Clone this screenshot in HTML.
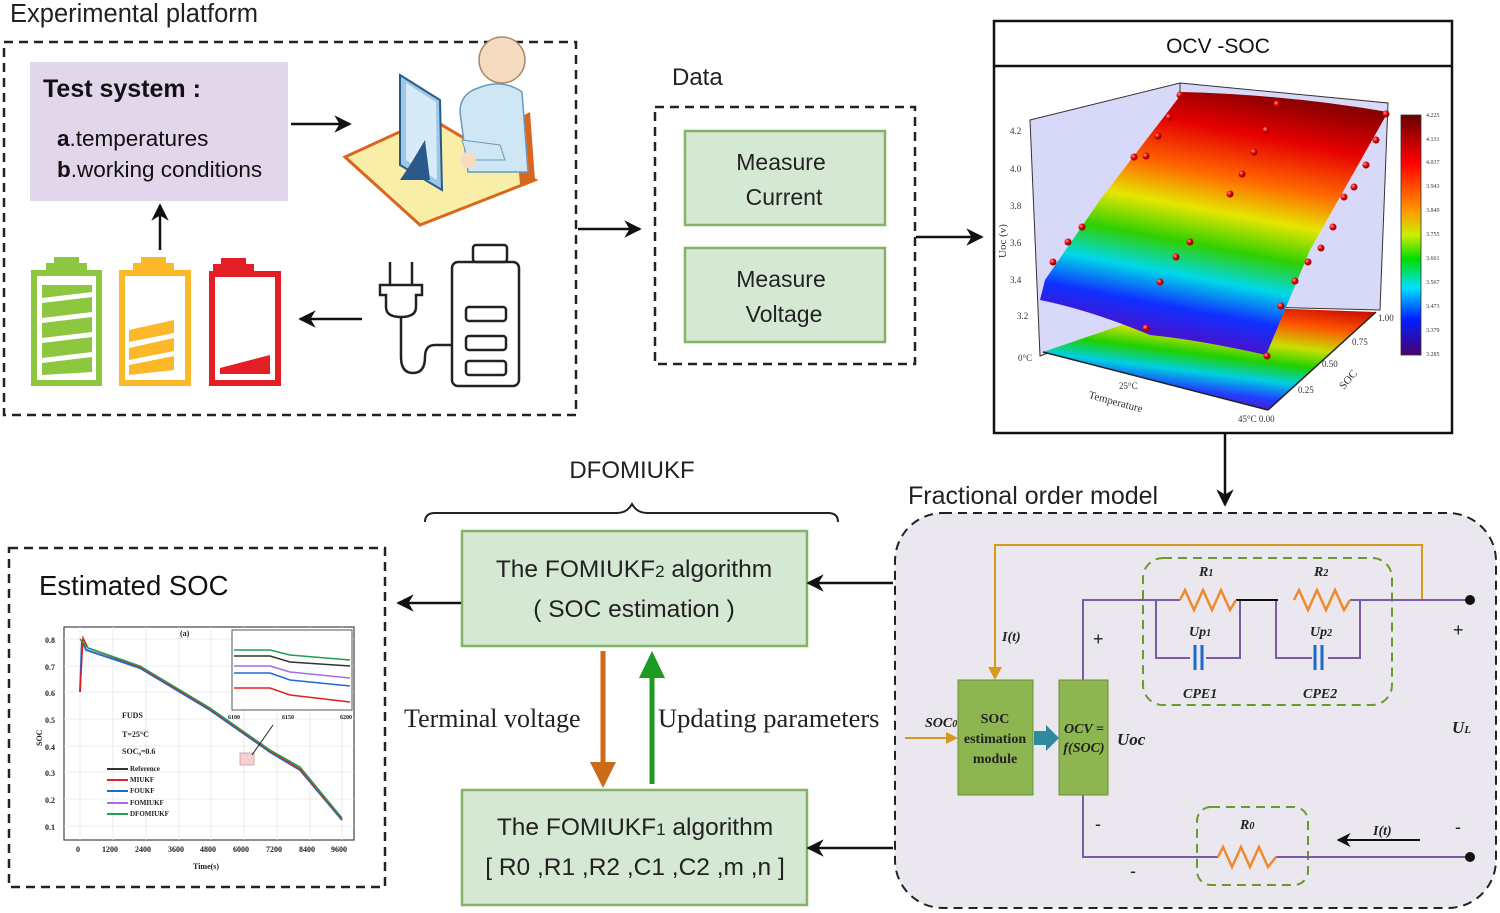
<!DOCTYPE html>
<html><head><meta charset="utf-8"><style>
html,body{margin:0;padding:0;background:#fff;}
svg{display:block;font-family:"Liberation Sans",sans-serif;}
</style></head><body>
<svg width="1500" height="913" viewBox="0 0 1500 913" xmlns="http://www.w3.org/2000/svg">
<defs>
<marker id="ah" viewBox="0 0 10 10" refX="9" refY="5" markerWidth="7" markerHeight="7" orient="auto-start-reverse"><path d="M0,0 L10,5 L0,10 L3,5 z" fill="#111"/></marker>
<linearGradient id="surf" x1="0.6" y1="0" x2="0.35" y2="1">
<stop offset="0" stop-color="#8b0000"/><stop offset="0.15" stop-color="#e60000"/><stop offset="0.32" stop-color="#ff6a00"/><stop offset="0.45" stop-color="#e6e600"/><stop offset="0.58" stop-color="#30d000"/><stop offset="0.7" stop-color="#00d8e8"/><stop offset="0.82" stop-color="#1030ff"/><stop offset="1" stop-color="#6a00b0"/></linearGradient>
<linearGradient id="floor" x1="0.9" y1="0" x2="0.5" y2="1">
<stop offset="0" stop-color="#c00000"/><stop offset="0.2" stop-color="#ff5000"/><stop offset="0.4" stop-color="#c8e000"/><stop offset="0.55" stop-color="#20d000"/><stop offset="0.7" stop-color="#00d0e0"/><stop offset="0.85" stop-color="#2040ff"/><stop offset="1" stop-color="#7000b0"/></linearGradient>
<linearGradient id="cbar" x1="0" y1="0" x2="0" y2="1">
<stop offset="0" stop-color="#6a0000"/><stop offset="0.2" stop-color="#ff0000"/><stop offset="0.4" stop-color="#ff9900"/><stop offset="0.5" stop-color="#ccee00"/><stop offset="0.6" stop-color="#00dd00"/><stop offset="0.72" stop-color="#00e0ff"/><stop offset="0.85" stop-color="#0020ff"/><stop offset="1" stop-color="#4a0070"/></linearGradient>
<radialGradient id="ball" cx="0.35" cy="0.35" r="0.7"><stop offset="0" stop-color="#ff9a9a"/><stop offset="0.5" stop-color="#e00000"/><stop offset="1" stop-color="#800000"/></radialGradient>
</defs>

<!-- Experimental platform -->
<text x="10" y="22" font-size="25.5" fill="#222">Experimental platform</text>
<rect x="4" y="42" width="572" height="373" fill="none" stroke="#222" stroke-width="2.5" stroke-dasharray="9,6"/>
<rect x="30" y="62" width="258" height="139" fill="#e2d6ea"/>
<text x="43" y="97" font-size="25" font-weight="bold" fill="#111">Test system :</text>
<text x="57" y="146" font-size="22.5" fill="#111"><tspan font-weight="bold">a</tspan>.temperatures</text>
<text x="57" y="177" font-size="22.5" fill="#111"><tspan font-weight="bold">b</tspan>.working conditions</text>
<line x1="291" y1="124" x2="350" y2="124" stroke="#111" stroke-width="2.5" marker-end="url(#ah)"/>
<line x1="160" y1="250" x2="160" y2="205" stroke="#111" stroke-width="2.5" marker-end="url(#ah)"/>
<line x1="362" y1="319" x2="300" y2="319" stroke="#111" stroke-width="2.5" marker-end="url(#ah)"/>
<!-- computer/person -->
<polygon points="345,157 430,118 535,180 420,225" fill="#f8eea8" stroke="#d9661e" stroke-width="3"/>
<polygon points="515,120 530,112 535,180 520,185" fill="#d9661e"/>
<path d="M478,88 q24,-10 44,4 l6,80 l-60,0 l-8,-60 q0,-18 18,-24 z" fill="#cfe6f4" stroke="#6a99bb" stroke-width="1.5"/>
<circle cx="502" cy="60" r="23" fill="#f5dcc0" stroke="#aa8866" stroke-width="1.5"/>
<polygon points="462,140 500,145 505,160 468,160" fill="#cfe7f4" stroke="#6a99bb"/>
<circle cx="468" cy="160" r="8" fill="#f5dcc0"/>
<polygon points="400,75 440,100 442,190 400,165" fill="#9cc8e6" stroke="#2b5a8a" stroke-width="2"/>
<polygon points="406,83 436,102 437,180 406,160" fill="#d6ebf7"/>
<polygon points="410,165 425,140 430,180 400,180" fill="#2b5a8a"/>
<!-- batteries -->
<g>
<rect x="54" y="257" width="25" height="6" fill="#8dc63f"/><rect x="46" y="263" width="41" height="8" fill="#8dc63f"/>
<rect x="34" y="273" width="65" height="110" fill="#fff" stroke="#8dc63f" stroke-width="6"/>
<g fill="#8dc63f"><polygon points="42,285 92,285 92,292 42,298"/><polygon points="42,303 92,297 92,312 42,318"/><polygon points="42,323 92,317 92,332 42,338"/><polygon points="42,343 92,337 92,352 42,358"/><polygon points="42,363 92,357 92,372 42,375"/></g>
<rect x="141" y="257" width="25" height="6" fill="#fbb829"/><rect x="133" y="263" width="41" height="8" fill="#fbb829"/>
<rect x="122" y="273" width="66" height="110" fill="#fff" stroke="#fbb829" stroke-width="6"/>
<g fill="#fbb829"><polygon points="129,330 174,320 174,333 129,342"/><polygon points="129,348 174,338 174,351 129,360"/><polygon points="129,365 174,356 174,370 129,375"/></g>
<rect x="221" y="258" width="25" height="6" fill="#e31e24"/><rect x="213" y="264" width="41" height="8" fill="#e31e24"/>
<rect x="212" y="274" width="66" height="109" fill="#fff" stroke="#e31e24" stroke-width="6"/>
<polygon points="220,368 270,355 270,374 220,374" fill="#e31e24"/>
</g>
<!-- plug & battery -->
<g fill="none" stroke="#222" stroke-width="2.5">
<rect x="473" y="245" width="34" height="17" rx="3"/>
<rect x="452" y="262" width="67" height="124" rx="6"/>
<rect x="466" y="307" width="40" height="14" rx="3"/><rect x="466" y="336" width="40" height="14" rx="3"/><rect x="466" y="361" width="40" height="14" rx="3"/>
<line x1="390" y1="262" x2="390" y2="285"/><line x1="412" y1="262" x2="412" y2="285"/>
<path d="M380,285 h42 v10 h-6 v12 q0,10 -15,10 q-15,0 -15,-10 v-12 h-6 z"/>
<path d="M401,317 v40 q0,16 12,16 q12,0 12,-16 q0,-12 10,-12 h17"/>
</g>

<!-- Data -->
<line x1="578" y1="229" x2="640" y2="229" stroke="#111" stroke-width="2.5" marker-end="url(#ah)"/>
<text x="672" y="85" font-size="24" fill="#222">Data</text>
<rect x="655" y="107" width="260" height="257" fill="none" stroke="#222" stroke-width="2.5" stroke-dasharray="9,6"/>
<rect x="685" y="131" width="200" height="94" fill="#d5e8d4" stroke="#82b366" stroke-width="2.5"/>
<rect x="685" y="248" width="200" height="94" fill="#d5e8d4" stroke="#82b366" stroke-width="2.5"/>
<text x="781" y="170" font-size="23" text-anchor="middle" fill="#222">Measure</text>
<text x="784" y="205" font-size="23" text-anchor="middle" fill="#222">Current</text>
<text x="781" y="287" font-size="23" text-anchor="middle" fill="#222">Measure</text>
<text x="784" y="322" font-size="23" text-anchor="middle" fill="#222">Voltage</text>
<line x1="916" y1="237" x2="982" y2="237" stroke="#111" stroke-width="2.5" marker-end="url(#ah)"/>

<!-- OCV-SOC -->
<rect x="994" y="21" width="458" height="412" fill="#fff" stroke="#111" stroke-width="2.5"/>
<line x1="994" y1="66" x2="1452" y2="66" stroke="#111" stroke-width="2.5"/>
<text x="1218" y="53" font-size="21" text-anchor="middle" fill="#111">OCV -SOC</text>
<polygon points="1030,120 1180,83 1180,305 1040,356" fill="#d8d8f8" stroke="#333" stroke-width="1"/>
<polygon points="1180,83 1388,103 1380,310 1180,305" fill="#d8d8f8" stroke="#333" stroke-width="1"/>
<polygon points="1043,352 1180,305 1376,312 1268,410" fill="url(#floor)"/>
<path d="M1183,92 Q1290,95 1388,112 L1310,250 L1266,355 Q1200,340 1150,335 Q1090,310 1040,300 L1045,280 L1100,200 Z" fill="url(#surf)"/>
<line x1="1043" y1="352" x2="1268" y2="410" stroke="#222" stroke-width="1.5"/>
<line x1="1268" y1="410" x2="1376" y2="312" stroke="#222" stroke-width="1.5"/>
<g fill="#333" font-size="9" font-family="Liberation Serif,serif">
<text x="1010" y="134">4.2</text><text x="1010" y="172">4.0</text><text x="1010" y="209">3.8</text><text x="1010" y="246">3.6</text><text x="1010" y="283">3.4</text><text x="1017" y="319">3.2</text>
<text x="1018" y="361">0°C</text><text x="1119" y="389">25°C</text><text x="1238" y="422">45°C 0.00</text>
<text x="1298" y="393">0.25</text><text x="1322" y="367">0.50</text><text x="1352" y="345">0.75</text><text x="1378" y="321">1.00</text>
<text transform="translate(1088,398) rotate(15)" font-size="11">Temperature</text>
<text transform="translate(1344,390) rotate(-50)" font-size="11">SOC</text>
<text transform="translate(1006,258) rotate(-90)" font-size="11">Uoc (v)</text>
</g>
<rect x="1401" y="115" width="20" height="240" fill="url(#cbar)" stroke="#333" stroke-width="0.8"/>
<g fill="#333" font-size="6" font-family="Liberation Serif,serif">
<text x="1426" y="117">4.225</text><text x="1426" y="141">4.131</text><text x="1426" y="164">4.037</text><text x="1426" y="188">3.943</text><text x="1426" y="212">3.849</text><text x="1426" y="236">3.755</text><text x="1426" y="260">3.661</text><text x="1426" y="284">3.567</text><text x="1426" y="308">3.473</text><text x="1426" y="332">3.379</text><text x="1426" y="356">3.285</text>
</g>
<g fill="url(#ball)">
<circle cx="1053" cy="262" r="3.5"/><circle cx="1068" cy="242" r="3.5"/><circle cx="1082" cy="227" r="3.5"/><circle cx="1134" cy="157" r="3.5"/><circle cx="1146" cy="156" r="3.5"/><circle cx="1158" cy="136" r="3.5"/><circle cx="1169" cy="117" r="3.5"/><circle cx="1180" cy="95" r="3.5"/>
<circle cx="1146" cy="328" r="3.5"/><circle cx="1160" cy="282" r="3.5"/><circle cx="1176" cy="257" r="3.5"/><circle cx="1190" cy="242" r="3.5"/><circle cx="1230" cy="194" r="3.5"/><circle cx="1242" cy="174" r="3.5"/><circle cx="1254" cy="152" r="3.5"/><circle cx="1266" cy="130" r="3.5"/><circle cx="1277" cy="104" r="3.5"/>
<circle cx="1267" cy="356" r="3.5"/><circle cx="1281" cy="306" r="3.5"/><circle cx="1295" cy="281" r="3.5"/><circle cx="1308" cy="262" r="3.5"/><circle cx="1321" cy="248" r="3.5"/><circle cx="1333" cy="227" r="3.5"/><circle cx="1344" cy="197" r="3.5"/><circle cx="1354" cy="187" r="3.5"/><circle cx="1366" cy="165" r="3.5"/><circle cx="1376" cy="140" r="3.5"/><circle cx="1386" cy="114" r="3.5"/>
</g>
<line x1="1225" y1="433" x2="1225" y2="505" stroke="#111" stroke-width="2.5" marker-end="url(#ah)"/>

<!-- Fractional order model -->
<text x="908" y="504" font-size="25" fill="#222">Fractional order model</text>
<rect x="895" y="513" width="601" height="395" rx="48" fill="#ebe7ef" stroke="#222" stroke-width="2" stroke-dasharray="9,6"/>
<rect x="1143" y="558" width="249" height="147" rx="20" fill="none" stroke="#6a9a2a" stroke-width="2" stroke-dasharray="9,6"/>
<rect x="1197" y="807" width="111" height="78" rx="14" fill="none" stroke="#6a9a2a" stroke-width="2" stroke-dasharray="9,6"/>
<polyline points="995,672 995,545 1422,545 1422,600" fill="none" stroke="#d49a1a" stroke-width="2"/>
<polygon points="988,667 1002,667 995,680" fill="#d49a1a"/>
<line x1="905" y1="738" x2="948" y2="738" stroke="#d49a1a" stroke-width="2"/>
<polygon points="946,732 958,738 946,744" fill="#d49a1a"/>
<g fill="none" stroke="#7b5aa6" stroke-width="2">
<polyline points="1083,680 1083,600 1180,600"/>
<polyline points="1350,600 1470,600"/>
<polyline points="1156,600 1156,658 1190,658"/><polyline points="1206,658 1240,658 1240,600"/>
<polyline points="1276,600 1276,658 1312,658"/><polyline points="1328,658 1360,658 1360,600"/>
<polyline points="1083,795 1083,857 1218,857"/><polyline points="1276,857 1470,857"/>
</g>
<line x1="1236" y1="600" x2="1278" y2="600" stroke="#111" stroke-width="2"/>
<g fill="none" stroke="#ef8a2a" stroke-width="2.5">
<polyline points="1180,600 1185,590 1194,610 1203,590 1212,610 1221,590 1230,610 1236,600"/>
<polyline points="1294,600 1299,590 1308,610 1317,590 1326,610 1335,590 1344,610 1350,600"/>
<polyline points="1218,857 1223,847 1232,867 1241,847 1250,867 1259,847 1268,867 1276,857"/>
</g>
<g stroke="#1a6acb" stroke-width="3"><line x1="1195" y1="645" x2="1195" y2="670"/><line x1="1202" y1="645" x2="1202" y2="670"/><line x1="1315" y1="645" x2="1315" y2="670"/><line x1="1322" y1="645" x2="1322" y2="670"/></g>
<circle cx="1470" cy="600" r="5" fill="#111"/><circle cx="1470" cy="857" r="5" fill="#111"/>
<rect x="958" y="680" width="75" height="115" fill="#8db651" stroke="#6c8e3a"/>
<rect x="1059" y="680" width="49" height="115" fill="#8db651" stroke="#6c8e3a"/>
<polygon points="1034,731 1046,731 1046,725 1059,738 1046,751 1046,745 1034,745" fill="#2f8a9e"/>
<g font-family="Liberation Serif,serif" font-weight="bold" fill="#222" text-anchor="middle">
<text x="995" y="723" font-size="14">SOC</text><text x="995" y="743" font-size="14">estimation</text><text x="995" y="763" font-size="14">module</text>
<text x="1084" y="733" font-size="14" font-style="italic">OCV =</text><text x="1084" y="752" font-size="14" font-style="italic">f(SOC)</text>
</g>
<g font-family="Liberation Serif,serif" font-weight="bold" font-style="italic" fill="#222" font-size="14">
<text x="925" y="727">SOC<tspan font-size="10">0</tspan></text>
<text x="1002" y="641">I(t)</text>
<text x="1117" y="745" font-size="17">Uoc</text>
<text x="1452" y="733" font-size="17">U<tspan font-size="11">L</tspan></text>
<text x="1199" y="576">R<tspan font-size="10">1</tspan></text><text x="1314" y="576">R<tspan font-size="10">2</tspan></text>
<text x="1189" y="636">Up<tspan font-size="10">1</tspan></text><text x="1310" y="636">Up<tspan font-size="10">2</tspan></text>
<text x="1183" y="698">CPE1</text><text x="1303" y="698">CPE2</text>
<text x="1240" y="829">R<tspan font-size="10">0</tspan></text>
<text x="1373" y="835">I(t)</text>
</g>
<line x1="1420" y1="840" x2="1338" y2="840" stroke="#111" stroke-width="2" marker-end="url(#ah)"/>
<g font-size="18" fill="#222"><text x="1093" y="645">+</text><text x="1453" y="636">+</text><text x="1095" y="830">-</text><text x="1130" y="877">-</text><text x="1455" y="833">-</text></g>

<!-- DFOMIUKF -->
<text x="632" y="478" font-size="24" text-anchor="middle" fill="#222">DFOMIUKF</text>
<path d="M425,522 q0,-9 10,-9 h182 q10,0 15,-9 q5,9 15,9 h181 q10,0 10,9" fill="none" stroke="#222" stroke-width="2"/>
<rect x="462" y="531" width="345" height="115" fill="#d5e8d4" stroke="#82b366" stroke-width="2.5"/>
<rect x="462" y="790" width="345" height="115" fill="#d5e8d4" stroke="#82b366" stroke-width="2.5"/>
<text x="634" y="577" font-size="24.5" text-anchor="middle" fill="#222">The FOMIUKF<tspan font-size="17">2</tspan> algorithm</text>
<text x="634" y="617" font-size="24.5" text-anchor="middle" fill="#222">( SOC estimation )</text>
<text x="635" y="835" font-size="24.5" text-anchor="middle" fill="#222">The FOMIUKF<tspan font-size="17">1</tspan> algorithm</text>
<text x="635" y="875" font-size="24.5" text-anchor="middle" fill="#222">[ R0 ,R1 ,R2 ,C1 ,C2 ,m ,n ]</text>
<line x1="603" y1="651" x2="603" y2="770" stroke="#cc6a1a" stroke-width="5"/>
<polygon points="590,762 616,762 603,788" fill="#cc6a1a"/>
<line x1="652" y1="784" x2="652" y2="672" stroke="#1c9a22" stroke-width="5"/>
<polygon points="639,678 665,678 652,651" fill="#1c9a22"/>
<text x="404" y="727" font-size="26" fill="#222" font-family="Liberation Serif,serif">Terminal voltage</text>
<text x="658" y="727" font-size="26.5" fill="#222" font-family="Liberation Serif,serif">Updating parameters</text>
<line x1="893" y1="583" x2="808" y2="583" stroke="#111" stroke-width="2.5" marker-end="url(#ah)"/>
<line x1="893" y1="848" x2="808" y2="848" stroke="#111" stroke-width="2.5" marker-end="url(#ah)"/>
<line x1="461" y1="603" x2="398" y2="603" stroke="#111" stroke-width="2.5" marker-end="url(#ah)"/>

<!-- Estimated SOC -->
<rect x="9" y="548" width="376" height="339" fill="none" stroke="#222" stroke-width="2.5" stroke-dasharray="9,6"/>
<text x="39" y="595" font-size="27.5" fill="#111">Estimated SOC</text>
<rect x="64" y="627" width="290" height="213" fill="#fff" stroke="#444" stroke-width="1.2"/>
<g stroke="#e6e6e6" stroke-width="0.8">
<line x1="64" y1="639" x2="354" y2="639"/><line x1="64" y1="666" x2="354" y2="666"/><line x1="64" y1="692" x2="354" y2="692"/><line x1="64" y1="719" x2="354" y2="719"/><line x1="64" y1="746" x2="354" y2="746"/><line x1="64" y1="772" x2="354" y2="772"/><line x1="64" y1="799" x2="354" y2="799"/><line x1="64" y1="826" x2="354" y2="826"/>
<line x1="80" y1="627" x2="80" y2="840"/><line x1="113" y1="627" x2="113" y2="840"/><line x1="146" y1="627" x2="146" y2="840"/><line x1="179" y1="627" x2="179" y2="840"/><line x1="211" y1="627" x2="211" y2="840"/><line x1="244" y1="627" x2="244" y2="840"/><line x1="277" y1="627" x2="277" y2="840"/><line x1="310" y1="627" x2="310" y2="840"/><line x1="342" y1="627" x2="342" y2="840"/>
</g>
<polyline points="80,692 82,640 86,650 140,668 210,710 270,752 300,770 342,820" fill="none" stroke="#1f6ad0" stroke-width="2"/>
<polyline points="80,692 83,638 88,648 140,667 210,709 270,751 300,769 342,819" fill="none" stroke="#e02020" stroke-width="1.5"/>
<polyline points="80,639 88,648 140,666 210,708 270,750 300,767 342,818" fill="none" stroke="#20a050" stroke-width="1.5"/>
<rect x="240" y="753" width="14" height="12" fill="#f4d0d0" stroke="#c99" stroke-width="0.8"/>
<line x1="252" y1="755" x2="273" y2="725" stroke="#222" stroke-width="1"/>
<rect x="232" y="630" width="120" height="80" fill="#fff" stroke="#555" stroke-width="1"/>
<polyline points="234,650 270,650 290,655 350,660" fill="none" stroke="#20a050" stroke-width="1.5"/>
<polyline points="234,656 270,656 290,662 350,666" fill="none" stroke="#333" stroke-width="1.5"/>
<polyline points="234,666 270,666 290,672 350,678" fill="none" stroke="#a070e0" stroke-width="1.5"/>
<polyline points="234,673 270,673 290,680 350,686" fill="none" stroke="#1f6ad0" stroke-width="1.5"/>
<polyline points="234,688 270,688 290,695 350,702" fill="none" stroke="#e02020" stroke-width="1.5"/>
<g font-family="Liberation Serif,serif" font-weight="bold" fill="#222" font-size="8">
<text x="180" y="636">(a)</text>
<text x="45" y="643">0.8</text><text x="45" y="670">0.7</text><text x="45" y="696">0.6</text><text x="45" y="723">0.5</text><text x="45" y="750">0.4</text><text x="45" y="776">0.3</text><text x="45" y="803">0.2</text><text x="45" y="830">0.1</text>
<text x="76" y="852">0</text><text x="102" y="852">1200</text><text x="135" y="852">2400</text><text x="168" y="852">3600</text><text x="200" y="852">4800</text><text x="233" y="852">6000</text><text x="266" y="852">7200</text><text x="299" y="852">8400</text><text x="331" y="852">9600</text>
<text x="193" y="869">Time(s)</text>
<text transform="translate(42,746) rotate(-90)">SOC</text>
<text x="122" y="718">FUDS</text><text x="122" y="737">T=25°C</text><text x="122" y="754">SOC₀=0.6</text>
<text x="130" y="771" font-size="7">Reference</text><text x="130" y="782" font-size="7">MIUKF</text><text x="130" y="793" font-size="7">FOUKF</text><text x="130" y="805" font-size="7">FOMIUKF</text><text x="130" y="816" font-size="7">DFOMIUKF</text>
<text x="228" y="719" font-size="6">6100</text><text x="282" y="719" font-size="6">6150</text><text x="340" y="719" font-size="6">6200</text>
</g>
<g stroke-width="2"><line x1="107" y1="769" x2="128" y2="769" stroke="#333"/><line x1="107" y1="780" x2="128" y2="780" stroke="#e02020"/><line x1="107" y1="791" x2="128" y2="791" stroke="#1f6ad0"/><line x1="107" y1="803" x2="128" y2="803" stroke="#a070e0"/><line x1="107" y1="814" x2="128" y2="814" stroke="#20a050"/></g>
</svg>
</body></html>
